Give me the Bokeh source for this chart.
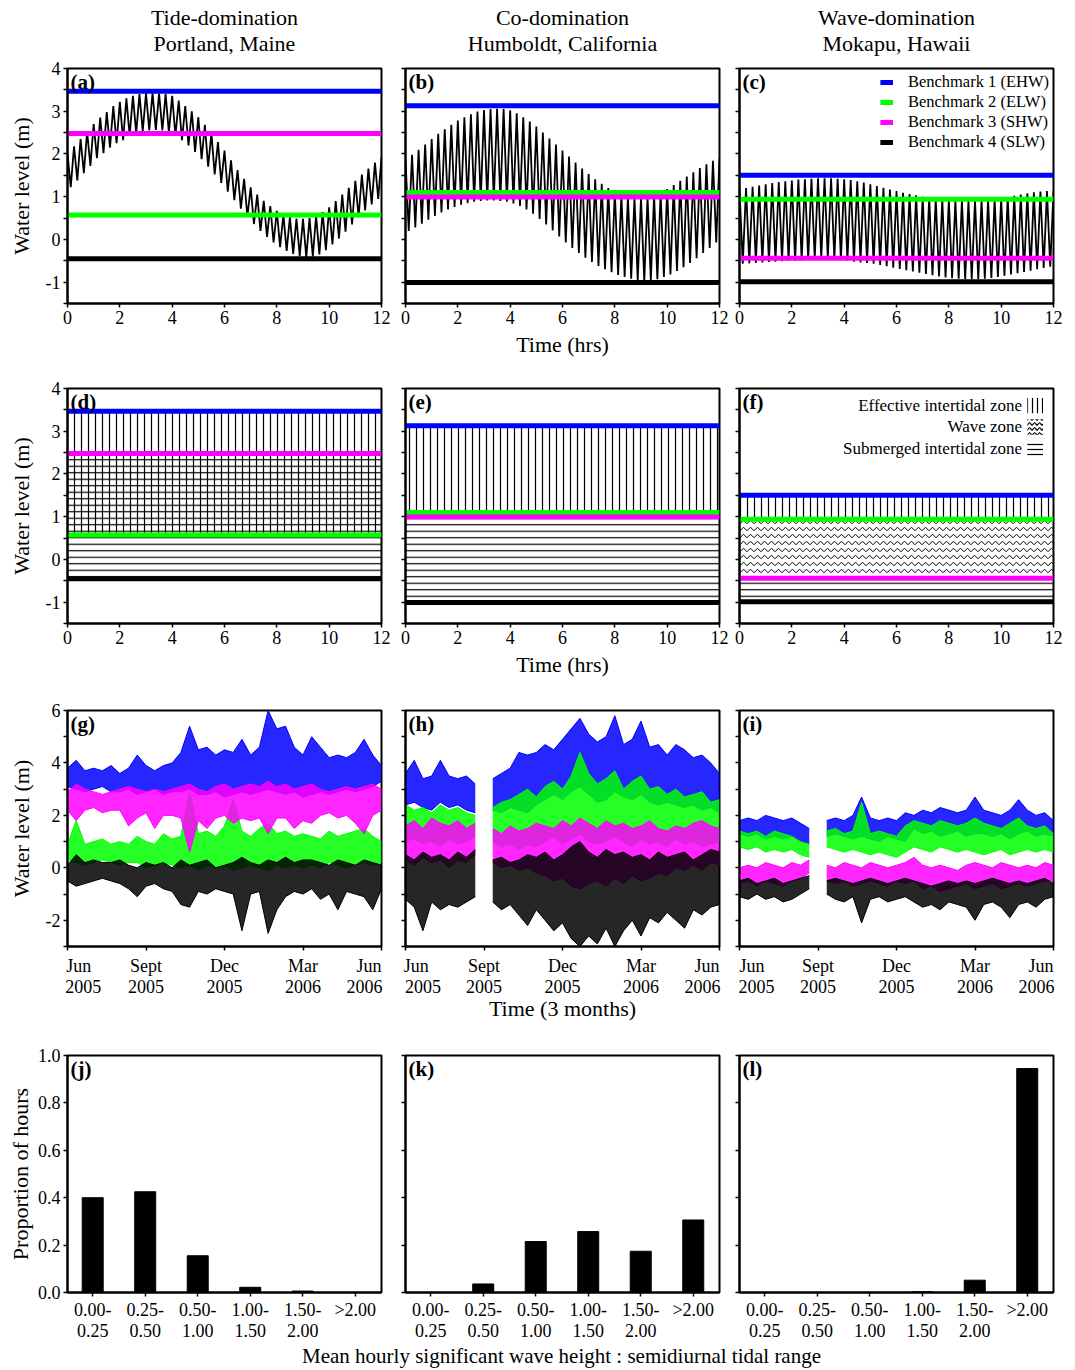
from bokeh.plotting import figure
from bokeh.layouts import gridplot, column
from bokeh.models import (Label, Legend, LegendItem, FixedTicker, Range1d, PrintfTickFormatter,
                          LinearAxis)
from bokeh.embed import file_html
from bokeh.resources import INLINE

FONT = "Liberation Serif"
NB = "\u00a0"

# ---------------- data ----------------
SITES = ["Tide-domination\nPortland, Maine",
         "Co-domination\nHumboldt, California",
         "Wave-domination\nMokapu, Hawaii"]
PANEL_LABELS = ["(a)", "(b)", "(c)", "(d)", "(e)", "(f)",
                "(g)", "(h)", "(i)", "(j)", "(k)", "(l)"]
BENCH_LABELS = ["Benchmark 1 (EHW)", "Benchmark 2 (ELW)",
                "Benchmark 3 (SHW)", "Benchmark 4 (SLW)"]
BENCH_COLORS = ["#0000FF", "#00FF00", "#FF00FF", "#000000"]

# benchmark water levels (m) for Portland, Humboldt, Mokapu
EHW = [3.47, 3.13, 1.50]
ELW = [0.57, 1.10, 0.94]
SHW = [2.48, 0.99, -0.44]
SLW = [-0.45, -1.01, -0.99]

# panels a-c: tidal water level, peaks at every 0.25 h, troughs in between
PEAKS_A = [2.00, 2.18, 2.35, 2.52, 2.70, 2.85, 2.98, 3.12, 3.22, 3.30, 3.36, 3.40,
           3.42, 3.43, 3.42, 3.40, 3.36, 3.25, 3.12, 3.00, 2.86, 2.68, 2.48, 2.28,
           2.08, 1.85, 1.62, 1.42, 1.22, 1.05, 0.90, 0.78, 0.67, 0.58, 0.52, 0.49,
           0.48, 0.50, 0.56, 0.64, 0.75, 0.90, 1.05, 1.21, 1.37, 1.52, 1.66, 1.80, 1.92]
TROUGHS_A = [1.22, 1.38, 1.55, 1.72, 1.90, 2.02, 2.15, 2.25, 2.32, 2.42, 2.48, 2.53,
             2.55, 2.56, 2.55, 2.50, 2.42, 2.32, 2.20, 2.05, 1.88, 1.70, 1.52, 1.32,
             1.12, 0.92, 0.72, 0.53, 0.36, 0.20, 0.06, -0.07, -0.18, -0.27, -0.34, -0.39,
             -0.42, -0.40, -0.35, -0.25, -0.12, 0.02, 0.18, 0.35, 0.52, 0.68, 0.82, 0.95]
PEAKS_B = [1.85, 1.98, 2.10, 2.22, 2.35, 2.47, 2.58, 2.68, 2.78, 2.86, 2.93, 2.99,
           3.03, 3.05, 3.06, 3.05, 3.02, 2.95, 2.86, 2.76, 2.64, 2.50, 2.36, 2.22,
           2.08, 1.94, 1.80, 1.66, 1.53, 1.41, 1.30, 1.20, 1.11, 1.04, 0.99, 0.97,
           0.97, 0.99, 1.03, 1.10, 1.18, 1.27, 1.37, 1.47, 1.57, 1.67, 1.76, 1.84, 1.90]
TROUGHS_B = [0.20, 0.28, 0.37, 0.46, 0.55, 0.63, 0.70, 0.76, 0.81, 0.85, 0.88, 0.90,
             0.91, 0.91, 0.90, 0.88, 0.84, 0.78, 0.70, 0.60, 0.48, 0.35, 0.21, 0.07,
             -0.07, -0.20, -0.32, -0.43, -0.53, -0.62, -0.70, -0.77, -0.83, -0.88, -0.92, -0.95,
             -0.97, -0.96, -0.93, -0.88, -0.82, -0.74, -0.65, -0.55, -0.44, -0.32, -0.20, -0.07]
PEAKS_C = [1.17, 1.20, 1.23, 1.26, 1.29, 1.32, 1.34, 1.36, 1.38, 1.40, 1.41, 1.42,
           1.43, 1.43, 1.43, 1.42, 1.41, 1.39, 1.36, 1.33, 1.29, 1.25, 1.21, 1.17,
           1.13, 1.09, 1.06, 1.03, 1.00, 0.97, 0.95, 0.93, 0.92, 0.91, 0.91, 0.91,
           0.92, 0.92, 0.93, 0.94, 0.96, 0.99, 1.02, 1.05, 1.08, 1.10, 1.12, 1.13, 1.13]
TROUGHS_C = [-0.57, -0.56, -0.55, -0.54, -0.53, -0.52, -0.51, -0.50, -0.50, -0.49, -0.48, -0.47,
             -0.46, -0.46, -0.47, -0.48, -0.50, -0.52, -0.54, -0.55, -0.57, -0.60, -0.63, -0.66,
             -0.69, -0.72, -0.75, -0.78, -0.81, -0.84, -0.87, -0.89, -0.91, -0.92, -0.93, -0.93,
             -0.93, -0.92, -0.90, -0.88, -0.85, -0.82, -0.79, -0.76, -0.73, -0.70, -0.67, -0.64]
TIDE_PEAKS = [PEAKS_A, PEAKS_B, PEAKS_C]
TIDE_TROUGHS = [TROUGHS_A, TROUGHS_B, TROUGHS_C]

HOUR_TICKS = [0, 2, 4, 6, 8, 10, 12]
LEVEL_TICKS = [-1, 0, 1, 2, 3, 4]
LEVEL_MINOR = [-1.5, -0.5, 0.5, 1.5, 2.5, 3.5]

# panels g-i: one-year water levels, upper / lower envelope every 1/3 month
MONTH_TICKS = [0, 3, 6, 9, 12]
MONTH_NAMES = ["Jun", "Sept", "Dec", "Mar", "Jun"]
MONTH_YEARS = ["2005", "2005", "2005", "2006", "2006"]
YEAR_TICKS = [-2, 0, 2, 4, 6]
YEAR_MINOR = [-3, -1, 1, 3, 5]

G_BLUE_HI = [3.8, 4.1, 3.7, 3.8, 3.7, 3.9, 3.6, 3.8, 4.3, 3.9, 3.7, 3.9, 4.0, 4.4, 5.4, 4.5, 4.6, 4.3, 4.5,
             4.4, 4.9, 4.3, 4.6, 6.0, 5.3, 5.4, 4.6, 4.3, 5.0, 4.6, 4.2, 4.3, 4.2, 4.4, 4.9, 4.3, 3.9]
G_BLUE_LO = [3.1, 3.0, 2.9, 3.0, 3.1, 2.9, 2.9, 3.0, 2.8, 2.9, 3.0, 2.8, 2.9, 2.9, 3.0, 2.8, 2.8, 2.9, 2.7,
             2.8, 2.9, 2.8, 2.9, 3.0, 2.9, 2.8, 2.9, 2.7, 2.8, 2.9, 2.8, 2.9, 3.0, 2.9, 3.0, 3.1, 3.3]
G_GRN_HI = [0.9, 1.8, 0.9, 1.0, 1.1, 0.9, 1.0, 0.9, 1.2, 1.0, 0.9, 1.3, 1.1, 1.2, 2.9, 1.3, 1.4, 1.2, 1.6,
            2.6, 1.4, 1.2, 1.5, 1.7, 1.3, 1.4, 1.2, 1.3, 1.2, 1.1, 1.4, 1.2, 1.3, 1.4, 1.5, 1.2, 1.0]
G_GRN_LO = [0.3, 0.2, 0.1, 0.2, 0.3, 0.2, 0.1, 0.2, 0.2, 0.0, 0.1, 0.2, 0.1, 0.0, 0.1, -0.1, 0.1, 0.0, 0.1,
            -0.1, 0.0, 0.1, 0.0, -0.1, 0.1, 0.0, 0.1, 0.0, 0.1, 0.0, 0.2, 0.1, 0.0, 0.1, 0.2, 0.1, 0.2]
G_MAG_HI = [2.9, 3.2, 3.0, 2.9, 2.8, 2.9, 3.0, 3.1, 3.0, 2.9, 3.0, 2.9, 3.0, 3.1, 3.2, 3.0, 2.9, 3.1, 3.2,
            3.0, 3.1, 3.2, 3.1, 3.3, 3.1, 3.2, 3.0, 3.1, 3.2, 3.0, 2.9, 3.0, 3.1, 3.0, 3.1, 3.2, 3.0]
G_MAG_LO = [2.2, 1.8, 2.2, 2.3, 2.1, 2.2, 2.2, 1.6, 1.9, 2.1, 1.5, 2.0, 2.0, 1.9, 0.6, 1.8, 1.5, 1.9, 2.0,
            1.7, 1.9, 1.8, 1.9, 1.3, 1.9, 1.9, 1.5, 1.8, 1.7, 2.0, 2.1, 1.9, 2.0, 1.7, 1.3, 2.0, 2.2]
G_BLK_HI = [0.1, 0.5, 0.2, 0.3, 0.2, 0.2, 0.3, 0.1, 0.0, 0.2, 0.1, 0.2, 0.0, 0.3, 0.1, 0.2, 0.3, 0.0, 0.1,
            0.2, 0.4, 0.2, 0.1, 0.3, 0.2, 0.4, 0.2, 0.3, 0.3, 0.2, 0.1, 0.3, 0.2, 0.1, 0.3, 0.2, 0.1]
G_BLK_LO = [-0.5, -0.7, -0.6, -0.5, -0.4, -0.5, -0.6, -0.8, -1.1, -0.7, -0.6, -0.8, -0.9, -1.4, -1.5, -0.9,
            -1.0, -0.8, -0.9, -1.0, -2.4, -1.0, -0.9, -2.5, -1.6, -1.1, -0.9, -1.0, -0.8, -1.2, -1.0, -1.6,
            -0.9, -1.0, -1.1, -1.6, -0.8]

H_BLUE_HI = [3.6, 4.1, 3.4, 3.5, 4.1, 3.5, 3.4, 3.5, 3.2, None, 3.4, 3.6, 3.8, 4.4, 4.3, 4.4, 4.7, 4.5, 4.9,
             5.3, 5.7, 5.1, 4.8, 5.0, 5.8, 4.7, 4.9, 5.6, 4.6, 4.7, 4.3, 4.7, 4.5, 4.2, 4.3, 4.0, 3.6]
H_BLUE_LO = [2.4, 2.5, 2.3, 2.2, 2.5, 2.3, 2.4, 2.2, 2.1, None, 2.2, 2.1, 2.3, 2.2, 2.1, 2.4, 2.6, 2.8, 2.6,
             2.9, 3.1, 2.8, 2.5, 2.6, 2.9, 2.7, 2.6, 2.8, 2.5, 2.4, 2.5, 2.4, 2.3, 2.4, 2.2, 2.3, 2.1]
H_GRN_HI = [2.4, 2.2, 2.3, 2.1, 2.4, 2.2, 2.3, 2.1, 2.0, None, 2.3, 2.5, 2.6, 2.8, 3.0, 2.7, 3.1, 3.3, 3.0,
            3.5, 4.4, 3.6, 3.2, 3.4, 3.7, 3.0, 3.3, 3.5, 3.0, 3.1, 2.8, 3.0, 2.7, 2.8, 2.9, 2.5, 2.6]
H_GRN_LO = [1.0, 1.1, 0.9, 1.0, 0.8, 1.1, 0.9, 1.0, 1.2, None, 1.0, 0.8, 0.9, 0.7, 0.9, 0.8, 1.0, 1.2, 0.9,
            1.1, 1.3, 1.0, 0.9, 1.0, 1.2, 1.0, 0.8, 1.1, 0.9, 1.0, 0.8, 1.1, 0.9, 1.0, 0.8, 0.9, 1.0]
H_MAG_HI = [1.6, 1.8, 1.5, 1.9, 1.7, 1.6, 1.8, 1.5, 1.7, None, 1.5, 1.3, 1.6, 1.4, 1.5, 1.7, 1.6, 1.5, 1.8,
            1.6, 1.9, 1.7, 1.5, 1.8, 1.6, 1.7, 1.5, 1.6, 1.8, 1.5, 1.4, 1.6, 1.5, 1.7, 1.8, 1.6, 1.5]
H_MAG_LO = [0.3, 0.1, 0.4, 0.2, 0.3, 0.0, 0.3, 0.2, 0.5, None, 0.2, 0.0, 0.1, -0.1, 0.0, -0.2, -0.3, -0.5,
            -0.4, -0.7, -0.8, -0.6, -0.5, -0.7, -0.4, -0.6, -0.3, -0.5, -0.4, -0.2, -0.3, 0.0, -0.1, 0.1,
            -0.1, 0.2, 0.1]
H_BLK_HI = [0.5, 0.3, 0.6, 0.4, 0.5, 0.3, 0.6, 0.4, 0.7, None, 0.3, 0.4, 0.2, 0.3, 0.5, 0.4, 0.6, 0.3, 0.5,
            0.8, 1.0, 0.6, 0.4, 0.7, 0.5, 0.6, 0.4, 0.5, 0.3, 0.6, 0.4, 0.5, 0.6, 0.3, 0.5, 0.7, 0.6]
H_BLK_LO = [-1.2, -1.5, -2.4, -1.3, -1.6, -1.4, -1.5, -1.3, -1.1, None, -1.3, -1.6, -1.4, -1.8, -2.2, -1.6,
            -2.0, -2.4, -2.1, -2.7, -3.0, -2.6, -2.9, -2.3, -3.0, -2.4, -2.0, -2.6, -1.9, -2.1, -1.7, -2.0,
            -2.3, -1.6, -1.8, -1.5, -1.4]

I_BLUE_HI = [1.8, 1.9, 1.8, 2.0, 1.9, 1.8, 1.9, 1.7, 1.5, None, 1.8, 1.9, 1.8, 2.0, 2.7, 1.9, 1.8, 1.9, 1.8,
             2.1, 2.0, 2.2, 2.1, 2.3, 2.2, 2.1, 2.2, 2.7, 2.2, 2.1, 2.0, 2.2, 2.6, 2.2, 2.0, 2.1, 1.8]
I_BLUE_LO = [1.3, 1.2, 1.3, 1.1, 1.2, 1.1, 1.2, 1.0, 0.9, None, 1.2, 1.3, 1.2, 1.1, 1.2, 1.1, 1.0, 1.2, 1.1,
             1.0, 1.5, 1.3, 1.4, 1.2, 1.3, 1.4, 1.2, 1.3, 1.3, 1.2, 1.3, 1.1, 1.3, 1.4, 1.2, 1.3, 1.2]
I_GRN_HI = [1.4, 1.3, 1.4, 1.2, 1.4, 1.3, 1.2, 1.0, 0.9, None, 1.4, 1.5, 1.3, 1.4, 2.5, 1.3, 1.4, 1.3, 1.2,
            1.6, 1.8, 1.7, 1.6, 1.8, 1.7, 1.6, 1.7, 1.9, 1.7, 1.6, 1.5, 1.7, 1.9, 1.6, 1.5, 1.6, 1.3]
I_GRN_LO = [0.8, 0.7, 0.8, 0.6, 0.7, 0.6, 0.7, 0.5, 0.4, None, 0.8, 0.7, 0.6, 0.7, 0.6, 0.5, 0.6, 0.5, 0.4,
            0.6, 0.8, 0.7, 0.6, 0.8, 0.7, 0.6, 0.7, 0.6, 0.5, 0.6, 0.7, 0.5, 0.6, 0.7, 0.6, 0.7, 0.6]
I_MAG_HI = [0.0, 0.1, 0.0, 0.2, 0.1, 0.0, 0.2, 0.1, 0.3, None, 0.1, 0.0, 0.2, 0.1, 0.0, 0.2, 0.1, 0.0, 0.1,
            0.2, 0.4, 0.1, 0.0, 0.1, 0.0, -0.1, 0.1, 0.2, 0.1, 0.0, 0.2, 0.1, 0.0, 0.1, 0.0, 0.2, 0.1]
I_MAG_LO = [-0.6, -0.5, -0.7, -0.5, -0.6, -0.7, -0.5, -0.4, -0.2, None, -0.5, -0.6, -0.5, -0.7, -0.6, -0.5,
            -0.6, -0.7, -0.5, -0.6, -0.5, -0.8, -0.7, -0.9, -0.8, -0.7, -0.6, -0.8, -0.7, -0.6, -0.8, -0.7,
            -0.6, -0.7, -0.6, -0.5, -0.5]
I_BLK_HI = [-0.5, -0.4, -0.6, -0.5, -0.4, -0.6, -0.5, -0.4, -0.3, None, -0.5, -0.4, -0.5, -0.6, -0.5, -0.4,
            -0.5, -0.6, -0.5, -0.4, -0.5, -0.6, -0.7, -0.6, -0.5, -0.6, -0.5, -0.6, -0.5, -0.4, -0.5, -0.6,
            -0.5, -0.6, -0.5, -0.4, -0.6]
I_BLK_LO = [-1.1, -1.2, -1.0, -1.2, -1.1, -1.3, -1.2, -1.0, -0.8, None, -1.0, -1.2, -1.3, -1.1, -2.1, -1.2,
            -1.1, -1.3, -1.2, -1.1, -1.3, -1.5, -1.4, -1.6, -1.3, -1.4, -1.5, -2.0, -1.4, -1.3, -1.5, -1.9,
            -1.4, -1.3, -1.5, -1.2, -1.1]

# drawing order: EHW (blue), ELW (green), SHW (magenta), SLW (black)
SERIES = [
    [(G_BLUE_HI, G_BLUE_LO), (G_GRN_HI, G_GRN_LO), (G_MAG_HI, G_MAG_LO), (G_BLK_HI, G_BLK_LO)],
    [(H_BLUE_HI, H_BLUE_LO), (H_GRN_HI, H_GRN_LO), (H_MAG_HI, H_MAG_LO), (H_BLK_HI, H_BLK_LO)],
    [(I_BLUE_HI, I_BLUE_LO), (I_GRN_HI, I_GRN_LO), (I_MAG_HI, I_MAG_LO), (I_BLK_HI, I_BLK_LO)],
]
SERIES_COLORS = ["#0000FF", "#00FF00", "#FF00FF", "#000000"]

# panels j-l: proportion of hours per ratio class
RATIO_CLASSES = ["0.00-\n0.25", "0.25-\n0.50", "0.50-\n1.00", "1.00-\n1.50", "1.50-\n2.00", ">2.00\n"]
PROP_J = [0.400, 0.425, 0.155, 0.022, 0.006, 0.000]
PROP_K = [0.000, 0.036, 0.215, 0.257, 0.174, 0.306]
PROP_L = [0.000, 0.000, 0.000, 0.003, 0.052, 0.945]
PROPS = [PROP_J, PROP_K, PROP_L]
PROP_TICKS = [0.0, 0.2, 0.4, 0.6, 0.8, 1.0]

ZONE_LABELS = ["Effective intertidal zone", "Wave zone", "Submerged intertidal zone"]

# ---------------- layout ----------------
FW = 314
COL_BL = [67, 14, 10]
COL_BR = [10, 10, 10]
ROW_BT = [68, 17, 17, 17]
ROW_FH = [235, 235, 236, 237]
ROW_BB = [68, 70, 92, 51]
# non-breaking padding of the first / last month labels (labels are kept inside each canvas)
FIRST_PAD = [(5, 7), (0, 3), (0, 2)]
LAST_PAD = (0, 2)


def txt(**kw):
    base = dict(text_font=FONT, text_color="black")
    base.update(kw)
    return Label(**base)


def make_fig(r, c, xr, yr, yticks, yminor, yfmt):
    p = figure(width=COL_BL[c] + FW + COL_BR[c], height=ROW_BT[r] + ROW_FH[r] + ROW_BB[r],
               x_range=Range1d(*xr), y_range=Range1d(*yr), output_backend="svg",
               toolbar_location=None, tools="",
               min_border_left=COL_BL[c], min_border_right=COL_BR[c],
               min_border_top=ROW_BT[r], min_border_bottom=ROW_BB[r])
    p.grid.visible = False
    p.outline_line_color = "black"
    p.outline_line_width = 2
    p.background_fill_color = "white"
    p.border_fill_color = "white"
    for ax in (p.below[0], p.left[0]):
        ax.axis_line_color = "black"
        ax.axis_line_width = 2
        ax.major_tick_out = 4
        ax.major_tick_in = 0
        ax.minor_tick_out = 4
        ax.minor_tick_in = 0
        ax.major_tick_line_width = 1.5
        ax.minor_tick_line_width = 1.5
        ax.major_tick_line_color = "black"
        ax.minor_tick_line_color = "black"
        ax.major_label_text_font = FONT
        ax.major_label_text_font_size = "18px"
        ax.major_label_text_color = "black"
        ax.major_label_text_line_height = 1.06
        ax.major_label_standoff = 3
        ax.axis_label_text_font = FONT
        ax.axis_label_text_font_size = "22px"
        ax.axis_label_text_font_style = "normal"
        ax.axis_label_text_color = "black"
    p.left[0].ticker = FixedTicker(ticks=yticks, minor_ticks=yminor)
    p.left[0].formatter = PrintfTickFormatter(format=yfmt)
    if c != 0:
        p.left[0].major_label_overrides = {t: "" for t in yticks}
    p.add_layout(txt(x=xr[0], y=yr[1], x_offset=3, y_offset=-1, text=PANEL_LABELS[r * 3 + c],
                     text_baseline="top", text_font_style="bold", text_font_size="21px"))
    return p


def bench_lines(p, c, xr):
    vals = [EHW[c], ELW[c], SHW[c], SLW[c]]
    rs = []
    for k in range(4):
        rs.append(p.line(x=[xr[0], xr[1]], y=[vals[k], vals[k]], line_width=5,
                         line_color=BENCH_COLORS[k]))
    return rs


HOURS_HALF = [i * 0.125 for i in range(97)]
MONTHS = [i / 3 for i in range(37)]

rows = []
# row 0: tidal curves
row = []
for c in range(3):
    xr, yr = (0, 12), (-1.5, 4)
    p = make_fig(0, c, xr, yr, LEVEL_TICKS, LEVEL_MINOR, "%d")
    p.below[0].ticker = FixedTicker(ticks=HOUR_TICKS)
    tax = LinearAxis(axis_label=SITES[c], ticker=FixedTicker(ticks=[]), axis_line_color=None,
                     major_tick_out=0, major_tick_in=0, minor_tick_out=0, minor_tick_in=0,
                     major_label_standoff=0, axis_label_standoff=13,
                     axis_label_text_font=FONT, axis_label_text_font_size="22px",
                     axis_label_text_line_height=1.04,
                     axis_label_text_font_style="normal", axis_label_text_color="black")
    p.add_layout(tax, "above")
    ys = []
    for k in range(48):
        ys.append(TIDE_PEAKS[c][k])
        ys.append(TIDE_TROUGHS[c][k])
    ys.append(TIDE_PEAKS[c][48])
    p.line(x=HOURS_HALF, y=ys, line_color="black", line_width=1.8)
    rs = bench_lines(p, c, xr)
    if c == 0:
        p.left[0].axis_label = "Water level (m)"
        p.left[0].axis_label_standoff = 9
    if c == 1:
        p.below[0].axis_label = "Time (hrs)"
    if c == 2:
        leg = Legend(items=[LegendItem(label=BENCH_LABELS[k], renderers=[rs[k]]) for k in range(4)],
                     location="top_right", margin=3, padding=1, spacing=0,
                     label_height=18, glyph_height=18, glyph_width=13, label_standoff=15,
                     label_text_font=FONT, label_text_font_size="16.5px", label_text_color="black",
                     label_text_line_height=1.0,
                     background_fill_alpha=0, border_line_alpha=0)
        p.add_layout(leg)
    row.append(p)
rows.append(row)

# row 1: zones
row = []
for c in range(3):
    xr, yr = (0, 12), (-1.5, 4)
    p = make_fig(1, c, xr, yr, LEVEL_TICKS, LEVEL_MINOR, "%d")
    p.below[0].ticker = FixedTicker(ticks=HOUR_TICKS)
    hatch = dict(fill_alpha=0, line_alpha=0, hatch_color="black", hatch_weight=1.2, hatch_alpha=1)
    p.quad(left=xr[0], right=xr[1], bottom=ELW[c], top=EHW[c], hatch_pattern="vertical_line",
           hatch_scale=7, **hatch)
    p.quad(left=xr[0], right=xr[1], bottom=SLW[c], top=SHW[c], hatch_pattern="horizontal_line",
           hatch_scale=6.5, **hatch)
    if SHW[c] < ELW[c]:
        p.quad(left=xr[0], right=xr[1], bottom=SHW[c], top=ELW[c], hatch_pattern="horizontal_wave",
               hatch_scale=7, hatch_color="black", hatch_weight=1.0, fill_alpha=0, line_alpha=0)
    bench_lines(p, c, xr)
    if c == 0:
        p.left[0].axis_label = "Water level (m)"
        p.left[0].axis_label_standoff = 9
    if c == 1:
        p.below[0].axis_label = "Time (hrs)"
    if c == 2:
        pats = ["vertical_line", "horizontal_wave", "horizontal_line"]
        for k in range(3):
            yy = 3.6 - 0.5 * k
            p.add_layout(txt(x=10.8, y=yy, text=ZONE_LABELS[k], text_align="right",
                             text_baseline="middle", text_font_size="17px"))
            p.quad(left=11.0, right=11.6, bottom=yy - 0.18, top=yy + 0.18, hatch_pattern=pats[k],
                   hatch_scale=5, **hatch)
    row.append(p)
rows.append(row)

# row 2: one-year records
row = []
for c in range(3):
    xr, yr = (0, 12), (-3, 6)
    p = make_fig(2, c, xr, yr, YEAR_TICKS, YEAR_MINOR, "%d")
    for k, (hi, lo) in enumerate(SERIES[c]):
        segs, cur = [], []
        for i in range(len(MONTHS)):
            if hi[i] is None:
                if cur:
                    segs.append(cur)
                cur = []
            else:
                cur.append(i)
        if cur:
            segs.append(cur)
        for seg in segs:
            xs = [MONTHS[i] for i in seg]
            his = [hi[i] for i in seg]
            los = [lo[i] for i in seg]
            p.varea(x=xs, y1=los, y2=his, fill_color=SERIES_COLORS[k], fill_alpha=0.85)
            p.line(x=xs, y=his, line_color=SERIES_COLORS[k], line_width=1)
            p.line(x=xs, y=los, line_color=SERIES_COLORS[k], line_width=1)
    p.below[0].ticker = FixedTicker(ticks=MONTH_TICKS)
    p.below[0].major_label_standoff = 5
    labels = [f"{MONTH_NAMES[i]}\n{MONTH_YEARS[i]}" for i in range(5)]
    fp = FIRST_PAD[c]
    labels[0] = f"{NB * fp[0]}{MONTH_NAMES[0]}\n{NB * fp[1]}{MONTH_YEARS[0]}"
    labels[4] = f"{MONTH_NAMES[4]}{NB * LAST_PAD[0]}\n{MONTH_YEARS[4]}{NB * LAST_PAD[1]}"
    p.below[0].major_label_overrides = {MONTH_TICKS[i]: labels[i] for i in range(5)}
    if c == 0:
        p.left[0].axis_label = "Water level (m)"
        p.left[0].axis_label_standoff = 9
    if c == 1:
        p.below[0].axis_label = "Time (3 months)"
        p.below[0].axis_label_standoff = -4
    row.append(p)
rows.append(row)

# row 3: bar charts
row = []
POS = [1, 2, 3, 4, 5, 6]
for c in range(3):
    xr, yr = (0.52, 6.5), (0, 1.0)
    p = make_fig(3, c, xr, yr, PROP_TICKS, [], "%.1f")
    p.vbar(x=POS, top=PROPS[c], width=0.4, fill_color="black", line_color="black")
    p.below[0].ticker = FixedTicker(ticks=POS)
    p.below[0].major_label_overrides = {POS[i]: RATIO_CLASSES[i] for i in range(6)}
    if c == 0:
        p.left[0].axis_label = "Proportion of hours"
        p.left[0].axis_label_standoff = 2
    row.append(p)
rows.append(row)

grid = gridplot(rows, toolbar_location=None)

total_w = sum(COL_BL) + 3 * FW + sum(COL_BR)
lab = figure(width=total_w, height=27, x_range=Range1d(0, 1), y_range=Range1d(0, 1),
             output_backend="svg", toolbar_location=None, tools="", min_border=0,
             x_axis_location=None, y_axis_location=None)
lab.grid.visible = False
lab.outline_line_color = None
lab.add_layout(txt(x=561 / total_w, y=0.55,
                   text="Mean hourly significant wave height : semidiurnal tidal range",
                   text_align="center", text_baseline="middle", text_font_size="21px"))

layout = column(grid, lab)
open("out.html", "w").write(file_html(layout, INLINE))
